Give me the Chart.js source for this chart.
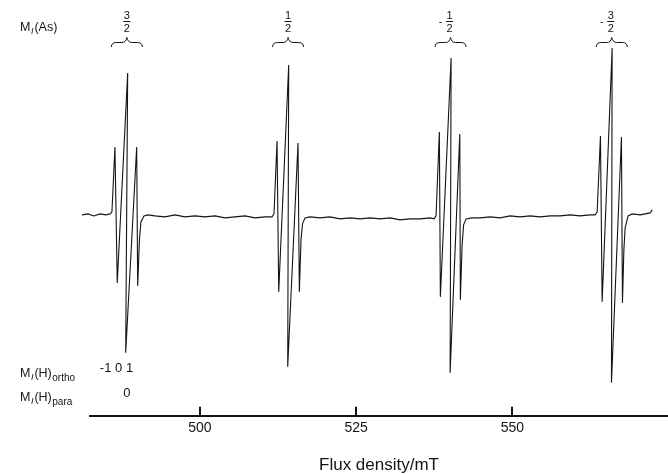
<!DOCTYPE html>
<html>
<head>
<meta charset="utf-8">
<script src="https://cdn.jsdelivr.net/npm/chart.js@4.4.0/dist/chart.umd.min.js"></script>
<style>
  html, body { margin: 0; padding: 0; background: #fff; }
  #wrap { width: 668px; height: 474px; }
</style>
</head>
<body>
<div id="wrap"><canvas id="chartCanvas"></canvas></div>
<script>
// EPR spectrum: field in mT, signal in arbitrary units (baseline ~ 0)
const field = [
  481.11, 482.07, 483.03, 483.99, 484.95, 485.59,
  // As  M_I = 3/2
  485.91, 486.39, 486.76, 488.43, 488.11, 489.87, 490.03, 490.31, 490.55, 491.04, 491.68,
  492.80, 494.40, 496.00, 497.60, 499.20, 500.80, 502.40, 504.00, 505.60, 507.21, 508.81, 510.41, 511.53,
  // M_I = 1/2
  511.85, 512.33, 512.60, 514.20, 514.04, 515.69, 515.90, 516.17, 516.41, 516.81, 517.61,
  519.21, 520.81, 522.42, 524.02, 525.62, 527.22, 528.82, 530.42, 532.02, 533.62, 535.22, 536.82, 537.46,
  // M_I = -1/2
  537.78, 538.31, 538.47, 540.19, 540.03, 541.58, 541.67, 541.95, 542.19, 542.59, 543.55,
  544.83, 546.43, 548.03, 549.63, 551.23, 552.83, 554.44, 556.04, 557.64, 559.24, 560.84, 562.44, 563.24,
  // M_I = -3/2
  563.56, 564.09, 564.36, 565.96, 565.85, 567.45, 567.61, 567.84, 568.04, 568.52, 569.16,
  570.45, 571.25, 572.05, 572.37
];
const signal = [
  1, 2, 0, 2, 1, 2,
  4, 69, -67, 143, -137, 69, -70, -24, -6, 0, 1,
  0, -1, 1, -1, 0, -1, 0, -2, -1, 0, -2, -1, -1,
  2, 75, -76, 151, -151, 73, -76, -24, -8, -2, -1,
  -2, -1, -3, -2, -3, -2, -3, -2, -4, -3, -3, -2, -3,
  0, 84, -81, 158, -157, 82, -84, -29, -9, -3, -2,
  -2, -1, -2, 0, -1, 0, -1, 0, 0, 1, 0, 1, 1,
  4, 80, -86, 168, -167, 79, -87, -34, -12, 0, 2,
  1, 2, 3, 6
];

// x-axis tick labels
const tickValues = [500, 525, 550];

// As hyperfine groups: centre field and M_I(As) label
const groupCentres = [488.3, 514.1, 540.1, 565.9];
const asLabels = ['3/2', '1/2', '-1/2', '-3/2'];
const orthoLabel = '-1 0 1';
const paraLabel = '0';

const FONT = '"Liberation Sans", Arial, Helvetica, sans-serif';
const INK = '#141414';

// M with italic subscript I, then the rest, then an optional subscript
function drawMI(ctx, x, y, rest, sub) {
  ctx.textAlign = 'left';
  ctx.textBaseline = 'alphabetic';
  ctx.font = `12.5px ${FONT}`;
  ctx.fillText('M', x, y);
  x += ctx.measureText('M').width + 0.5;
  ctx.font = `italic 9px ${FONT}`;
  ctx.fillText('I', x, y + 3);
  x += ctx.measureText('I').width + 1;
  ctx.font = `12.5px ${FONT}`;
  ctx.fillText(rest, x, y);
  x += ctx.measureText(rest).width + 0.5;
  if (sub) {
    ctx.font = `10px ${FONT}`;
    ctx.fillText(sub, x, y + 4);
  }
}

function drawBrace(ctx, cx, yTip, yEnd, half) {
  const yMid = yTip + 5;
  ctx.beginPath();
  ctx.moveTo(cx - half, yEnd);
  ctx.quadraticCurveTo(cx - half, yMid, cx - half + 5, yMid);
  ctx.lineTo(cx - 5, yMid);
  ctx.quadraticCurveTo(cx - 1, yMid, cx, yTip);
  ctx.quadraticCurveTo(cx + 1, yMid, cx + 5, yMid);
  ctx.lineTo(cx + half - 5, yMid);
  ctx.quadraticCurveTo(cx + half, yMid, cx + half, yEnd);
  ctx.stroke();
}

const annotations = {
  id: 'annotations',
  afterDraw(chart) {
    const { ctx } = chart;
    const x = chart.scales.x;
    ctx.save();
    ctx.fillStyle = INK;
    ctx.strokeStyle = INK;
    ctx.lineWidth = 1;

    drawMI(ctx, 20, 31, '(As)', '');

    asLabels.forEach((lab, i) => {
      const cx = x.getPixelForValue(groupCentres[i]);
      const neg = lab.startsWith('-');
      const [num, den] = lab.replace('-', '').split('/');
      const fx = neg ? cx - 1 : cx;
      ctx.font = `11px ${FONT}`;
      ctx.textAlign = 'center';
      ctx.textBaseline = 'alphabetic';
      ctx.fillText(num, fx, 19);
      ctx.fillText(den, fx, 32);
      ctx.beginPath();
      ctx.moveTo(fx - 3.5, 21.5);
      ctx.lineTo(fx + 3.5, 21.5);
      ctx.stroke();
      if (neg) ctx.fillText('-', fx - 9, 25);
      drawBrace(ctx, cx, 37.5, 47, 15.5);
    });

    const c1 = x.getPixelForValue(groupCentres[0]);
    drawMI(ctx, 20, 377, '(H)', 'ortho');
    drawMI(ctx, 20, 401, '(H)', 'para');
    ctx.font = `13px ${FONT}`;
    ctx.textAlign = 'left';
    ctx.fillText(orthoLabel, c1 - 27, 372);
    ctx.textAlign = 'center';
    ctx.fillText(paraLabel, c1, 397);
    ctx.restore();
  }
};

const ctx = document.getElementById('chartCanvas').getContext('2d');

new Chart(ctx, {
  type: 'line',
  data: {
    datasets: [{
      data: field.map((f, i) => ({ x: f, y: signal[i] })),
      borderColor: INK,
      borderWidth: 1.1,
      pointRadius: 0,
      tension: 0,
      clip: false
    }]
  },
  options: {
    responsive: true,
    maintainAspectRatio: false,
    animation: false,
    layout: { padding: { left: 90, right: 0, top: 40, bottom: 0 } },
    plugins: {
      legend: { display: false },
      tooltip: { enabled: false }
    },
    scales: {
      x: {
        type: 'linear',
        min: 482.4,
        max: 574.9,
        afterBuildTicks: axis => {
          axis.ticks = tickValues.map(v => ({ value: v }));
        },
        grid: {
          drawOnChartArea: false,
          drawTicks: true,
          tickLength: -9,
          color: INK,
          lineWidth: 2
        },
        border: { display: true, color: INK, width: 2 },
        ticks: {
          color: INK,
          font: { family: FONT, size: 14 },
          padding: 13,
          maxRotation: 0,
          autoSkip: false
        },
        title: {
          display: true,
          text: 'Flux density/mT',
          color: INK,
          font: { family: FONT, size: 17 },
          padding: { top: 6, bottom: -2 }
        }
      },
      y: { display: false, min: -200, max: 176 }
    }
  },
  plugins: [annotations]
});
</script>
</body>
</html>
